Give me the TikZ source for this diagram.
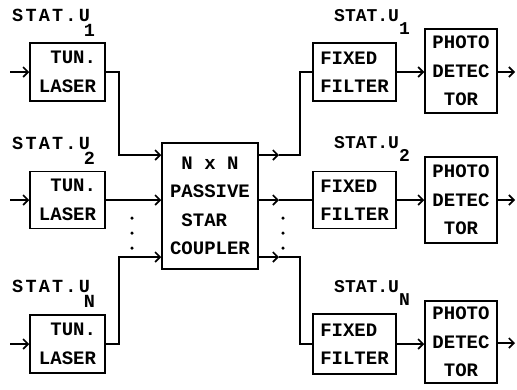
\documentclass[tikz,border=0pt]{standalone}
\usepackage{fontspec}
\newfontfamily\pf{Liberation Mono}
\usetikzlibrary{arrows.meta}
\begin{document}
\begin{tikzpicture}[x=1pt,y=-1pt,
  box/.style={draw,line width=1.5pt,inner sep=0pt,font=\pf\bfseries\fontsize{19}{28.5}\selectfont},
  lblL/.style={inner sep=0pt,anchor=base west,font=\pf\bfseries\fontsize{18.5}{22}\selectfont\addfontfeature{LetterSpace=12}},
  lblR/.style={inner sep=0pt,anchor=base west,font=\pf\bfseries\fontsize{18}{22}\selectfont},
  arr/.style={line width=1.6pt,-{Straight Barb[length=5pt,width=10pt,line width=1.6pt]}},
  ln/.style={line width=1.6pt},
  dot/.style={circle,fill,inner sep=0pt,minimum size=3.5pt}
]
\useasboundingbox (0,0) rectangle (517,389);

% lasers
\node[box,minimum width=75pt,minimum height=58pt,align=left] (L1) at (67.5,72) {\hphantom{X}TUN.\\LASER};
\node[box,minimum width=75pt,minimum height=57pt,align=left] (L2) at (67.5,200) {\hphantom{X}TUN.\\LASER};
\node[box,minimum width=75pt,minimum height=58pt,align=left] (LN) at (67.5,344) {\hphantom{X}TUN.\\LASER};

% coupler
\node[box,minimum width=96pt,minimum height=126pt,align=left] (C) at (210,206) {\hphantom{X}N x N\\PASSIVE\\\hphantom{X}STAR\\COUPLER};

% filters
\node[box,minimum width=83pt,minimum height=58pt,align=left] (F1) at (354.5,72) {FIXED\\FILTER};
\node[box,minimum width=83pt,minimum height=57pt,align=left] (F2) at (354.5,200) {FIXED\\FILTER};
\node[box,minimum width=83pt,minimum height=60pt,align=left] (FN) at (354.5,344) {FIXED\\FILTER};

% photodetectors
\node[box,minimum width=72pt,minimum height=84pt,align=center] (P1) at (461,71) {PHOTO\\DETEC\\TOR};
\node[box,minimum width=72pt,minimum height=86pt,align=center] (P2) at (461,200) {PHOTO\\DETEC\\TOR};
\node[box,minimum width=72pt,minimum height=82pt,align=center] (PN) at (461,342) {PHOTO\\DETEC\\TOR};

% labels
\node[lblL] (sl1) at (12,21) {STAT.U\raisebox{-15.5pt}{\kern-6pt 1}};
\node[lblL] (sl2) at (12,149) {STAT.U\raisebox{-15.5pt}{\kern-6pt 2}};
\node[lblL] (slN) at (12,292) {STAT.U\raisebox{-15.5pt}{\kern-6pt N}};
\node[lblR] (sr1) at (334,21) {STAT.U\raisebox{-13pt}{1}};
\node[lblR] (sr2) at (334,148) {STAT.U\raisebox{-13pt}{2}};
\node[lblR] (srN) at (334,292) {STAT.U\raisebox{-13pt}{N}};

% inputs
\coordinate (i1) at (10,72);
\coordinate (i2) at (10,200);
\coordinate (iN) at (10,344);
\draw[arr] (i1) -- (L1.west);
\draw[arr] (i2) -- (L2.west);
\draw[arr] (iN) -- (LN.west);

% lasers to coupler
\coordinate (k1) at (119,155);
\coordinate (kN) at (119,257);
\draw[arr] (L1.east) -| (k1) -- (k1 -| C.west);
\draw[arr] (L2.east) -- (L2.east -| C.west);
\draw[arr] (LN.east) -| (kN) -- (kN -| C.west);

% coupler to filters
\coordinate (m1) at (279,155);
\coordinate (r1) at (300,155);
\coordinate (m2) at (279,200);
\coordinate (m3) at (279,257);
\coordinate (r3) at (300,257);
\draw[arr] (m1 -| C.east) -- (m1);
\draw[ln] (m1) -- (r1) |- (F1.west);
\draw[arr] (m2 -| C.east) -- (m2);
\draw[ln] (m2) -- (F2.west);
\draw[arr] (m3 -| C.east) -- (m3);
\draw[ln] (m3) -- (r3) |- (FN.west);

% filters to photodetectors
\draw[arr] (F1.east) -- (F1.east -| P1.west);
\draw[arr] (F2.east) -- (F2.east -| P2.west);
\draw[arr] (FN.east) -- (FN.east -| PN.west);

% outputs
\coordinate (o1) at (515,72);
\coordinate (o2) at (515,200);
\coordinate (oN) at (515,343);
\draw[arr] (P1.east |- o1) -- (o1);
\draw[arr] (P2.east |- o2) -- (o2);
\draw[arr] (PN.east |- oN) -- (oN);

% dots
\node[dot] (dl1) at (132,218) {};
\node[dot] (dl2) at (132,233) {};
\node[dot] (dl3) at (132,248) {};
\node[dot] (dr1) at (283,218) {};
\node[dot] (dr2) at (283,233) {};
\node[dot] (dr3) at (283,248) {};
\end{tikzpicture}
\end{document}
